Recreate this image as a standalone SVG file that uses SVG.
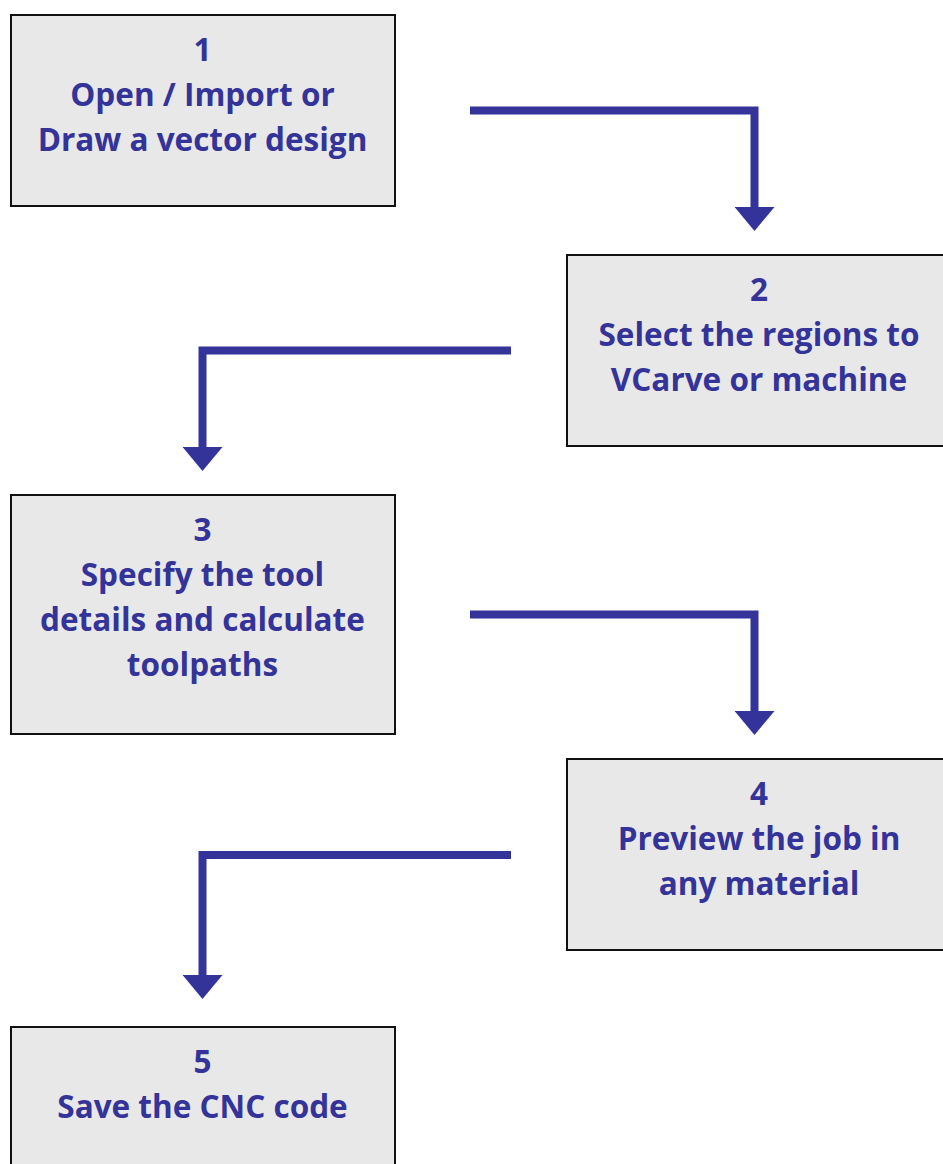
<svg xmlns="http://www.w3.org/2000/svg" width="943" height="1164" viewBox="0 0 943 1164">
  <style>
    .box { fill: #e8e8e8; stroke: #111111; stroke-width: 2; }
    .lbl { font-family: "Open Sans", Lato, "Liberation Sans", sans-serif; font-weight: bold; font-size: 31.5px; fill: #333399; text-anchor: middle; }
    .conn { fill: none; stroke: #333399; stroke-width: 8; stroke-linejoin: miter; marker-end: url(#head); }
  </style>
  <defs>
    <marker id="head" markerUnits="userSpaceOnUse" viewBox="0 0 24 40" markerWidth="24" markerHeight="40" refX="1" refY="20" orient="auto">
      <polygon points="0,0 24,20 0,40" fill="#333399"/>
    </marker>
  </defs>
  <rect width="943" height="1164" fill="#ffffff"/>

  <g id="connectors">
    <path class="conn" d="M470,110.5 H754.5 V208"/>
    <path class="conn" d="M511,350.5 H202.5 V448"/>
    <path class="conn" d="M470,614.5 H754.5 V712"/>
    <path class="conn" d="M511,855 H202.5 V976"/>
  </g>

  <g id="node1">
    <rect class="box" x="11" y="15" width="384" height="191"/>
    <text class="lbl" x="202.5" y="61">1</text>
    <text class="lbl" x="202.5" y="106">Open / Import or</text>
    <text class="lbl" x="202.5" y="151">Draw a vector design</text>
  </g>

  <g id="node2">
    <rect class="box" x="567" y="255" width="390" height="191"/>
    <text class="lbl" x="759" y="301">2</text>
    <text class="lbl" x="759" y="346">Select the regions to</text>
    <text class="lbl" x="759" y="391">VCarve or machine</text>
  </g>

  <g id="node3">
    <rect class="box" x="11" y="495" width="384" height="239"/>
    <text class="lbl" x="202.5" y="541">3</text>
    <text class="lbl" x="202.5" y="586">Specify the tool</text>
    <text class="lbl" x="202.5" y="631">details and calculate</text>
    <text class="lbl" x="202.5" y="676">toolpaths</text>
  </g>

  <g id="node4">
    <rect class="box" x="567" y="759" width="390" height="191"/>
    <text class="lbl" x="759" y="805">4</text>
    <text class="lbl" x="759" y="850">Preview the job in</text>
    <text class="lbl" x="759" y="895">any material</text>
  </g>

  <g id="node5">
    <rect class="box" x="11" y="1027" width="384" height="160"/>
    <text class="lbl" x="202.5" y="1073">5</text>
    <text class="lbl" x="202.5" y="1118">Save the CNC code</text>
  </g>
</svg>
